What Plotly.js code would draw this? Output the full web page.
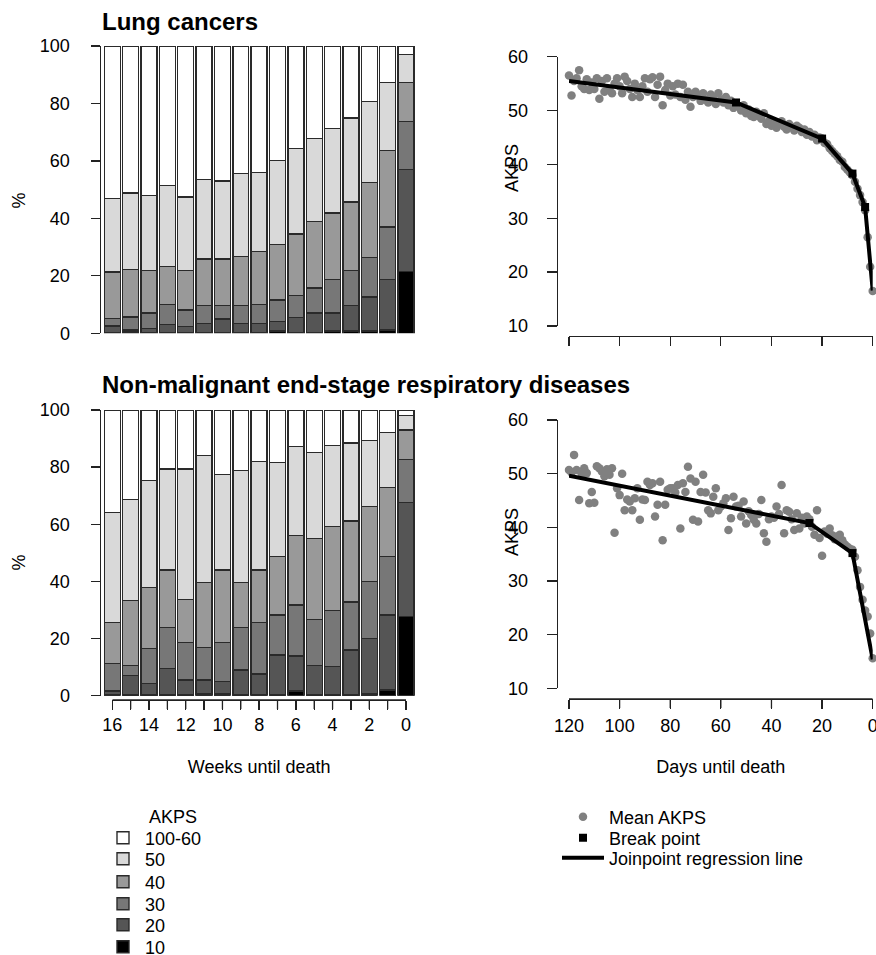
<!DOCTYPE html>
<html><head><meta charset="utf-8">
<script src="https://cdn.plot.ly/plotly-3.0.1.min.js"></script>
<style>html,body{margin:0;padding:0;background:#fff;width:876px;height:955px;overflow:hidden}#chart{position:absolute;left:0;top:0;width:876px;height:955px}</style>
</head><body><div id="chart"></div>
<script>
// ---------- data ----------
const weeks = [16,15,14,13,12,11,10,9,8,7,6,5,4,3,2,1,0];
const weekTickText = ['16','','14','','12','','10','','8','','6','','4','','2','','0'];
const akpsLevels = ['10','20','30','40','50','100-60'];

// Lung cancers, % of patients per AKPS level
const lung10 = [0.3,0.5,0.3,0.2,0.2,0.2,0.2,0.2,0.2,0.8,0.2,0.3,0.8,0.8,0.8,1.2,21.5];
const lung20 = [2.3,0.7,1.3,2.8,2.2,3.3,4.8,3.3,3.3,3.3,5.4,6.7,6.2,8.9,11.9,17.6,35.5];
const lung30 = [2.5,4.5,5.4,7.0,5.7,6.2,4.7,6.2,6.6,7.5,7.5,8.7,11.8,12.2,13.6,18.2,16.8];
const lung40 = [16.2,16.6,14.9,13.3,13.8,16.2,16.2,17.0,18.4,19.3,21.4,23.3,23.1,23.8,26.1,26.7,13.5];
const lung50 = [25.6,26.6,26.1,28.2,25.5,27.6,27.1,28.9,27.5,29.3,29.8,28.8,29.4,29.2,28.3,23.6,9.7];
const lung60 = [53.1,51.1,52.0,48.5,52.6,46.5,47.0,44.4,44.0,39.8,35.7,32.2,28.7,25.1,19.3,12.7,3.0];

// Non-malignant end-stage respiratory diseases
const resp10 = [0.5,0.2,0.2,0.2,0.2,0.6,0.6,0.2,0.5,0.2,1.6,0.2,0.2,0.2,0.6,2.0,27.7];
const resp20 = [1.1,6.8,4.1,9.4,5.3,4.9,4.3,8.8,7.1,14.0,12.3,10.3,10.0,15.8,19.5,26.2,39.9];
const resp30 = [9.7,3.5,12.3,14.3,13.1,11.4,13.7,14.9,18.0,14.0,17.8,16.2,19.6,16.8,19.8,20.5,15.1];
const resp40 = [14.4,22.8,21.2,20.1,15.1,22.7,25.4,15.7,18.4,20.5,24.3,28.4,29.4,28.3,26.3,24.1,10.3];
const resp50 = [38.4,35.4,37.6,35.3,45.6,44.4,33.5,39.3,37.9,32.9,31.2,30.0,28.4,27.3,23.1,19.3,5.0];
const resp60 = [35.9,31.3,24.6,20.7,20.7,16.0,22.5,21.1,18.1,18.4,12.8,14.9,12.4,11.6,10.7,7.9,2.0];

const days = [120,119,118,117,116,115,114,113,112,111,110,109,108,107,106,105,104,103,102,101,
  100,99,98,97,96,95,94,93,92,91,90,89,88,87,86,85,84,83,82,81,
  80,79,78,77,76,75,74,73,72,71,70,69,68,67,66,65,64,63,62,61,
  60,59,58,57,56,55,54,53,52,51,50,49,48,47,46,45,44,43,42,41,
  40,39,38,37,36,35,34,33,32,31,30,29,28,27,26,25,24,23,22,21,
  20,19,18,17,16,15,14,13,12,11,10,9,8,7,6,5,4,3,2,1,0];
const dayTicks = [120,100,80,60,40,20,0];

const lungMeanAKPS = [56.5,52.8,55.5,56.0,57.5,54.5,54.0,55.8,53.8,55.2,54.0,56.0,52.2,55.5,53.5,56.0,54.0,53.2,55.0,56.0,
  54.5,53.2,56.3,55.5,54.0,52.5,55.0,53.8,52.5,54.5,56.0,53.5,55.8,56.2,52.5,54.8,56.3,51.0,53.8,55.0,
  52.8,54.5,53.0,55.0,52.5,54.8,52.0,53.5,50.7,52.5,53.5,52.8,51.8,53.2,52.0,51.5,53.0,52.2,51.2,53.2,
  52.0,51.5,52.5,51.0,51.8,50.5,51.2,50.8,50.0,51.0,49.5,50.2,49.0,48.8,49.8,49.0,48.5,49.5,47.5,48.0,
  47.2,47.8,46.8,47.5,48.0,47.0,46.5,47.5,47.0,46.3,47.2,46.8,46.0,46.5,45.5,46.0,45.2,45.5,44.5,45.0,
  44.8,44.0,43.8,43.0,42.5,42.0,41.5,40.8,40.5,39.5,39.0,38.5,38.0,36.8,35.5,34.3,33.0,31.5,26.5,21.0,16.5];

const respMeanAKPS = [50.7,50.2,53.5,50.7,45.1,50.0,51.0,50.1,44.5,46.6,44.6,51.4,51.0,50.4,49.5,50.8,49.8,51.0,39.0,47.3,
  46.0,50.0,43.2,45.2,44.8,43.2,45.4,47.3,41.4,45.2,45.1,48.5,47.9,48.2,42.0,44.2,48.5,37.6,44.2,47.0,
  47.3,47.3,46.5,47.9,39.8,48.2,46.6,51.3,49.1,41.4,48.5,41.1,46.6,49.8,46.5,43.2,42.6,45.7,47.3,43.2,
  43.9,44.5,45.4,39.5,41.7,45.7,43.9,44.0,42.0,44.8,40.7,43.0,42.3,41.4,40.7,42.5,45.1,38.9,37.3,41.5,
  42.0,41.8,43.9,42.5,47.9,38.9,43.2,42.9,41.5,39.5,42.6,39.8,41.8,40.7,42.0,41.5,40.1,38.6,43.2,38.0,
  34.7,39.2,38.8,39.8,38.5,37.8,38.3,38.6,37.6,36.8,36.4,36.0,35.8,34.5,32.0,28.9,26.5,24.5,23.4,20.2,15.6];

const lungJoinDays = [120,54,20,8,3,0];
const lungJoinAKPS = [55.5,51.5,44.8,38.3,32.1,16.6];
const lungBreakDays = [54,20,8,3];
const lungBreakAKPS = [51.5,44.8,38.3,32.1];

const respJoinDays = [120,25,8,0];
const respJoinAKPS = [49.6,40.8,35.2,15.4];
const respBreakDays = [25,8];
const respBreakAKPS = [40.8,35.2];

// ---------- styling ----------
const W = 876, H = 955;
const px = v => v / W;
const py = v => 1 - v / H;
const FONT = 'Liberation Sans, Arial, Helvetica, sans-serif';
const AX = '#222';
const barColors = ['#000000','#555555','#777777','#999999','#d9d9d9','#ffffff'];
const lungSeries = [lung10,lung20,lung30,lung40,lung50,lung60];
const respSeries = [resp10,resp20,resp30,resp40,resp50,resp60];
const barLegendIds = ['legend6','legend5','legend4','legend3','legend2','legend'];
const barLegendRows = [947,925,904,882,859,838];

const traces = [];
akpsLevels.forEach((lvl, i) => {
  traces.push({type:'bar', x: weeks, y: lungSeries[i], name: lvl, xaxis:'x', yaxis:'y',
    width: 0.87, marker:{color: barColors[i], line:{color:'#2a2a2a', width:1.4}},
    hoverinfo:'skip', legend: barLegendIds[i], showlegend:true});
});
akpsLevels.forEach((lvl, i) => {
  traces.push({type:'bar', x: weeks, y: respSeries[i], name: lvl, xaxis:'x3', yaxis:'y3',
    width: 0.87, marker:{color: barColors[i], line:{color:'#2a2a2a', width:1.4}},
    hoverinfo:'skip', showlegend:false});
});
// invisible carriers so that the separate tick-line and tick-label axes are drawn
const carrier = (xa, ya, xs, ys) => traces.push({type:'scatter', mode:'markers', x: xs, y: ys,
  xaxis: xa, yaxis: ya, marker:{opacity:0, size:1}, showlegend:false, hoverinfo:'skip'});
carrier('x5', 'y3', [weeks[0], weeks[weeks.length-1]], [50, 50]);
carrier('x6', 'y3', [weeks[0], weeks[weeks.length-1]], [50, 50]);
carrier('x7', 'y4', [dayTicks[0], dayTicks[dayTicks.length-1]], [40, 40]);

function scatterSet(xa, ya, meanY, jd, ja, bd, ba, leg) {
  traces.push({type:'scatter', mode:'markers', x: days, y: meanY, xaxis:xa, yaxis:ya,
    marker:{color:'#808080', size:8.5}, cliponaxis:false, name:'Mean AKPS',
    showlegend:leg, legend:'legend7', hoverinfo:'skip'});
  traces.push({type:'scatter', mode:'lines', x: jd, y: ja, xaxis:xa, yaxis:ya,
    line:{color:'#000', width:4}, cliponaxis:false, name:'Joinpoint regression line',
    showlegend:leg, legend:'legend9', hoverinfo:'skip'});
  traces.push({type:'scatter', mode:'markers', x: bd, y: ba, xaxis:xa, yaxis:ya,
    marker:{color:'#000', size:8, symbol:'square'}, cliponaxis:false, name:'Break point',
    showlegend:leg, legend:'legend8', hoverinfo:'skip'});
}
scatterSet('x2','y2', lungMeanAKPS, lungJoinDays, lungJoinAKPS, lungBreakDays, lungBreakAKPS, true);
scatterSet('x4','y4', respMeanAKPS, respJoinDays, respJoinAKPS, respBreakDays, respBreakAKPS, false);

const tickFont = {family: FONT, size: 18, color:'#000'};
const titleFont = {family: FONT, size: 18, color:'#000'};
const base = {showgrid:false, zeroline:false, fixedrange:true, linecolor:AX, linewidth:1.3,
  tickcolor:AX, tickwidth:1.3, tickfont: tickFont, ticklabeloverflow:'allow'};

const unit = (406 - 112.3) / 16;
const barXDomain = [px(112.3 - 0.6 * unit), px(406 + 0.6 * unit)];
const barTickDomain = [px(112.3), px(406)];
const scXDomain = [px(569), px(872.7)];
const hiddenX = {showline:false, ticks:'', showticklabels:false};
const labelOnly = {showline:false, ticks:'', showticklabels:true};

// R-style bottom axis lines and ticks, laid on the week / day axes (backup for the axis lines)
const WEEK_LINE_Y = 700, DAY_LINE_Y = 699, TICK_LEN = 9;
const axisShapes = [];
function addAxisShapes(xref, vals, lineY) {
  axisShapes.push({type:'line', layer:'above', xref: xref, yref:'paper', x0: vals[0], x1: vals[vals.length-1],
    y0: py(lineY), y1: py(lineY), line:{color: AX, width: 1.3}});
  vals.forEach(v => axisShapes.push({type:'line', layer:'above', xref: xref, yref:'paper', x0: v, x1: v,
    y0: py(lineY), y1: py(lineY + TICK_LEN), line:{color: AX, width: 1.3}}));
}
addAxisShapes('x5', weeks, WEEK_LINE_Y);
addAxisShapes('x4', dayTicks, DAY_LINE_Y);

const layout = {
  width: W, height: H, margin:{l:0,r:0,t:0,b:0,autoexpand:false}, paper_bgcolor:'#fff', plot_bgcolor:'rgba(0,0,0,0)',
  barmode:'stack', font:{family: FONT, size:18, color:'#000'},
  xaxis: Object.assign({}, base, hiddenX, {domain: barXDomain, range:[16.6,-0.6], anchor:'y'}),
  yaxis: Object.assign({}, base, {domain:[py(333.3), py(46)], range:[0,100], anchor:'free',
    position: px(99.5), showline:true, ticks:'outside', ticklen:9, tickvals:[0,20,40,60,80,100],
    ticklabelstandoff:17}),
  xaxis3: Object.assign({}, base, hiddenX, {domain: barXDomain, range:[16.6,-0.6], anchor:'y3'}),
  yaxis3: Object.assign({}, base, {domain:[py(695.7), py(410)], range:[0,100], anchor:'free',
    position: px(99.5), showline:true, ticks:'outside', ticklen:9, tickvals:[0,20,40,60,80,100],
    ticklabelstandoff:17}),
  // weeks axis: line + ticks + title
  xaxis5: Object.assign({}, base, {domain: barTickDomain, range:[16,0], anchor:'free', position: py(WEEK_LINE_Y),
    showline:true, ticks:'outside', ticklen:TICK_LEN, tickvals: weeks, showticklabels:false,
    title:{text:'Weeks until death', font: titleFont, standoff: 51}}),
  // weeks axis: labels only
  xaxis6: Object.assign({}, base, labelOnly, {domain: barTickDomain, range:[16,0], anchor:'free',
    position: py(WEEK_LINE_Y), overlaying:'x5', tickvals: weeks, ticktext: weekTickText, ticklabelstandoff:12}),
  xaxis2: Object.assign({}, base, {domain: scXDomain, range:[120,0], anchor:'free', position: py(336),
    showline:true, ticks:'outside', ticklen:9, tickvals: dayTicks, showticklabels:false}),
  yaxis2: Object.assign({}, base, {domain:[py(326), py(56.7)], range:[10,60], anchor:'free',
    position: px(556.7), showline:true, ticks:'outside', ticklen:10, tickvals:[10,20,30,40,50,60],
    ticklabelstandoff:15}),
  // days axis: line + ticks + title
  xaxis4: Object.assign({}, base, {domain: scXDomain, range:[120,0], anchor:'free', position: py(DAY_LINE_Y),
    showline:true, ticks:'outside', ticklen:TICK_LEN, tickvals: dayTicks, showticklabels:false,
    title:{text:'Days until death', font: titleFont, standoff: 52}}),
  // days axis: labels only
  xaxis7: Object.assign({}, base, labelOnly, {domain: scXDomain, range:[120,0], anchor:'free',
    position: py(DAY_LINE_Y), overlaying:'x4', tickvals: dayTicks, ticklabelstandoff:14}),
  yaxis4: Object.assign({}, base, {domain:[py(688.3), py(420)], range:[10,60], anchor:'free',
    position: px(556.7), showline:true, ticks:'outside', ticklen:10, tickvals:[10,20,30,40,50,60],
    ticklabelstandoff:15}),
  shapes: axisShapes,
  annotations: [
    {text:'<b>Lung cancers</b>', x:px(100), y:py(22), xref:'paper', yref:'paper', xanchor:'left', yanchor:'middle', showarrow:false, font:{family:FONT, size:24, color:'#000'}},
    {text:'<b>Non-malignant end-stage respiratory diseases</b>', x:px(100), y:py(385), xref:'paper', yref:'paper', xanchor:'left', yanchor:'middle', showarrow:false, font:{family:FONT, size:24, color:'#000'}},
    {text:'%', x:px(18.5), y:py(201), xref:'paper', yref:'paper', xanchor:'center', yanchor:'middle', textangle:-90, showarrow:false, font:{family:FONT, size:18}},
    {text:'%', x:px(18.5), y:py(563), xref:'paper', yref:'paper', xanchor:'center', yanchor:'middle', textangle:-90, showarrow:false, font:{family:FONT, size:18}},
    {text:'AKPS', x:px(512), y:py(168), xref:'paper', yref:'paper', xanchor:'center', yanchor:'middle', textangle:-90, showarrow:false, font:{family:FONT, size:18}},
    {text:'AKPS', x:px(512), y:py(532), xref:'paper', yref:'paper', xanchor:'center', yanchor:'middle', textangle:-90, showarrow:false, font:{family:FONT, size:18}},
    {text:'AKPS', x:px(147), y:py(817), xref:'paper', yref:'paper', xanchor:'left', yanchor:'middle', showarrow:false, font:{family:FONT, size:18}}
  ]
};

function legendAt(xPix, yPix, iw) {
  return {x: px(xPix), y: py(yPix), xanchor:'left', yanchor:'middle', bgcolor:'rgba(0,0,0,0)',
    borderwidth:0, itemwidth: iw, font:{family:FONT, size:18, color:'#000'}, itemclick:false, itemdoubleclick:false};
}
barLegendIds.forEach((id, i) => { layout[id] = legendAt(101, barLegendRows[i], 34); });
layout.legend7 = legendAt(557, 817, 42);
layout.legend8 = legendAt(557, 838, 42);
layout.legend9 = legendAt(557, 858, 42);

Plotly.newPlot('chart', traces, layout, {staticPlot:true, displayModeBar:false});
</script>
</body></html>
